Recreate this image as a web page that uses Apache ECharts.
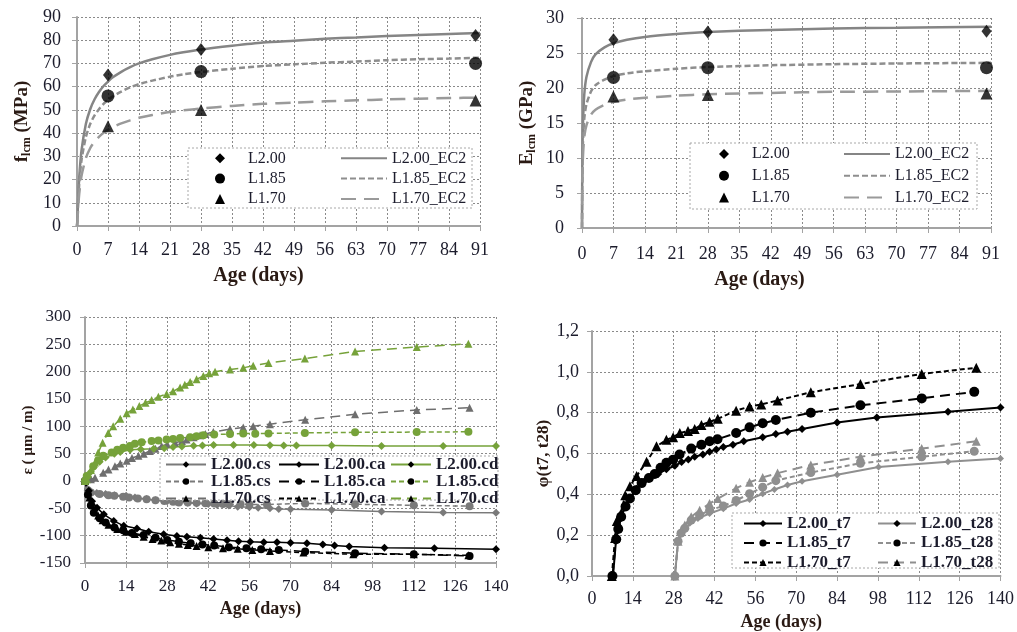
<!DOCTYPE html>
<html>
<head>
<meta charset="utf-8">
<script src="https://cdn.jsdelivr.net/npm/echarts@6/dist/echarts.min.js"></script>
<style>
  html, body { margin: 0; padding: 0; background: #fff; }
  #chart { width: 1017px; height: 632px; }
</style>
</head>
<body>
<div id="chart"></div>
<script>
// ---- top left: compressive strength ----
const ageTest = [7, 28, 90];
const fcmL200 = [65, 76, 82];
const fcmL185 = [56, 66.5, 70];
const fcmL170 = [43, 50, 54];
const ageEc2 = [0, 0.1, 0.25, 0.5, 1, 2, 3, 4, 5, 6, 7, 8, 10, 12, 14, 17, 21, 24, 28, 35, 42, 49, 56, 63, 70, 77, 84, 91];
const fcmEc2L200 = [0, 3.3, 11.2, 20.8, 32.2, 43.9, 50.4, 54.7, 57.8, 60.3, 62.2, 63.9, 66.4, 68.4, 70, 71.8, 73.7, 74.8, 76, 77.6, 79, 79.8, 80.6, 81.2, 81.8, 82.3, 82.7, 83.1];
const fcmEc2L185 = [0, 2.9, 9.8, 18.1, 28.1, 38.3, 44, 47.7, 50.4, 52.6, 54.3, 55.7, 57.9, 59.7, 61.1, 62.6, 64.3, 65.3, 66.3, 67.7, 68.9, 69.6, 70.3, 70.8, 71.4, 71.8, 72.1, 72.5];
const fcmEc2L170 = [0, 2.2, 7.5, 13.8, 21.4, 29.2, 33.6, 36.4, 38.5, 40.1, 41.4, 42.5, 44.2, 45.5, 46.6, 47.8, 49.1, 49.8, 50.6, 51.7, 52.6, 53.1, 53.7, 54.1, 54.5, 54.8, 55.1, 55.3];

// ---- top right: modulus of elasticity ----
const ecmL200 = [26.9, 28.0, 28.1];
const ecmL185 = [21.5, 22.9, 22.9];
const ecmL170 = [18.8, 19.0, 19.2];
const ageEc2E = [0, 0.02, 0.05, 0.1, 0.2, 0.5, 1, 2, 3, 5, 7, 10, 14, 21, 28, 42, 56, 70, 91];
const ecmEc2L200 = [0, 3.1, 7.2, 10.9, 14.6, 19, 21.6, 23.7, 24.8, 25.8, 26.4, 26.9, 27.3, 27.7, 28, 28.3, 28.5, 28.6, 28.75];
const ecmEc2L185 = [0, 2.5, 5.9, 9, 12, 15.6, 17.7, 19.5, 20.4, 21.2, 21.7, 22.1, 22.4, 22.75, 23, 23.25, 23.4, 23.5, 23.6];
const ecmEc2L170 = [0, 2.1, 4.9, 7.4, 10, 13, 14.7, 16.2, 16.9, 17.6, 18, 18.35, 18.6, 18.9, 19.1, 19.3, 19.45, 19.5, 19.6];

// ---- bottom left: strains [day, µm/m] ----
const csL200 = [[0,0],[1,-15],[2,-20],[4,-22],[7,-24],[10,-26],[14,-27],[17,-30],[21,-33],[24,-35],[28,-37],[31,-38],[35,-40],[38,-41],[42,-42],[45,-44],[49,-45],[52,-47],[56,-48],[59,-49],[63,-50],[66,-51],[70,-51.5],[84,-53],[101,-56],[122,-57.5],[140,-58]];
const csL185 = [[0,0],[1,-17],[2,-21],[5,-24],[8,-26],[10,-27],[13,-29],[15,-30],[18,-32],[21,-33.5],[24,-35],[27,-36.5],[30,-38],[32,-39.5],[35,-39.5],[38,-40],[41,-40.5],[44,-41],[47,-42],[49,-42.5],[53,-42.5],[56,-43],[62,-43],[75,-41],[92,-42.5],[112,-44.5],[131,-46]];
const csL170 = [[0,0],[2,3],[3.4,6],[6.2,15],[8,21],[10.2,27],[12,32],[14.2,37],[16,42],[18.2,46],[20,50],[22.1,55],[24,59],[26.1,64],[28,67],[30.7,70],[33,73],[34.6,76],[37,80],[39.2,83.6],[41,86],[43.7,89.6],[49.4,95],[53.9,98],[57.3,100],[63,104],[75,112],[92,122],[113,130],[131,134]];
const caL200 = [[0,0],[1.3,-18],[2.4,-37],[4.1,-49],[6.4,-61],[9.8,-73],[13.2,-82],[17.7,-87],[21.7,-93],[26.8,-97.5],[31.3,-100.5],[34.7,-102],[39.3,-104],[43.8,-106],[48.4,-108.5],[52.3,-110],[56.3,-111],[60.9,-112],[65.4,-112],[70,-113],[75.6,-114],[81,-116],[85,-118],[90,-120],[102,-122],[119,-123],[140,-125]];
const caL185 = [[0,0],[1,-25],[2,-45],[3,-58],[5,-68],[7,-76],[10,-85],[13,-90],[16,-95],[20,-99],[24,-104],[28,-108],[32,-111],[36,-114],[40,-116],[44,-118],[49,-121],[55,-123],[60,-125],[66,-126],[75,-129],[92,-132],[112,-134],[131,-137]];
const caL170 = [[0,0],[1.5,-30],[3,-52],[4.5,-63],[6,-72],[8,-80],[11,-88],[14,-93],[17,-97],[20,-102],[23,-106],[26,-109],[29,-112],[32,-115],[35,-117],[38,-119],[42,-121],[47,-123],[52,-124],[57,-126],[63,-128],[74.4,-131],[91.4,-134],[112,-134],[130.6,-136]];
const cdL200 = [[0,0],[1,8],[2,17],[3,25],[5,35],[7,43],[10,50],[12,53],[15.4,57],[19,58],[23.4,59],[27,60],[30,62],[33,63],[37,64.5],[40,65],[43.8,66],[50.6,66],[57.5,66],[63,65.5],[67.7,65],[72,65],[84,65],[101,64],[122,64],[140,64]];
const cdL185 = [[0,0],[0.6,9],[2.8,27],[4.5,38],[6.2,46],[9.1,52],[11,57],[13,61],[15.3,64],[17,68],[19.3,71],[22.7,73],[25,74],[27.8,76],[30,77],[32.4,78.5],[35.8,80],[38,82],[40.3,83.5],[44,85],[49.4,86],[53.9,87],[58,86.5],[62.5,87],[74.9,88],[92,89],[113,89.5],[130.6,90]];
const cdL170 = [[0,0],[0.6,3],[2,20],[3.4,34],[4.5,52],[6,70],[7.9,88],[9.6,100],[12,114],[14.2,124],[16.3,131],[18.5,137],[20.6,143],[22.7,148],[25,154],[27.8,159],[30,164],[32.4,171],[34,176],[35.8,181],[38,186],[40.3,192],[42.3,197],[44.3,200],[49.4,204],[53.9,207],[57.3,211],[62.5,216],[74.9,224],[92,237],[113,245],[130.6,251]];

// ---- bottom right: creep coefficient [day, phi] ----
const phiL200t7 = [[7.2,0],[8.3,0.186],[9.7,0.28],[11.4,0.347],[13,0.38],[15.3,0.427],[17.6,0.46],[19.9,0.483],[22.7,0.5],[25.5,0.523],[28.4,0.54],[30.7,0.558],[33,0.571],[35.2,0.584],[38,0.595],[40.3,0.608],[42.6,0.62],[45,0.632],[48.3,0.643],[52,0.66],[58.5,0.68],[63,0.695],[67,0.707],[72,0.72],[84,0.752],[97.6,0.776],[122,0.804],[140,0.825]];
const phiL185t7 = [[7,0],[8.3,0.18],[9,0.23],[10,0.29],[11.5,0.34],[13,0.38],[15,0.42],[17,0.455],[19.5,0.48],[21.5,0.5],[23.5,0.53],[25.5,0.555],[27.8,0.57],[30,0.595],[34,0.624],[37.5,0.643],[40.3,0.66],[43,0.67],[49.4,0.7],[54,0.728],[58.5,0.748],[63,0.764],[75,0.8],[92,0.836],[113,0.87],[131,0.902]];
const phiL170t7 = [[6.8,0],[7.9,0.186],[8.5,0.27],[9.7,0.3],[11.4,0.395],[13,0.44],[15.3,0.49],[18.7,0.56],[22.1,0.635],[25.5,0.667],[27.8,0.68],[30.1,0.7],[32.9,0.71],[35.2,0.72],[37.5,0.74],[40.3,0.755],[43.1,0.77],[49.4,0.81],[54,0.83],[58,0.84],[63.6,0.86],[75,0.9],[92,0.94],[113,0.99],[131.7,1.02]];
const phiL200t28 = [[28.4,0],[29.5,0.17],[31.2,0.218],[33.5,0.258],[36.3,0.282],[40.3,0.306],[45,0.33],[49.4,0.355],[54,0.375],[58.5,0.403],[62.5,0.424],[67,0.446],[72,0.464],[84,0.496],[98.2,0.534],[122,0.56],[140,0.576]];
const phiL185t28 = [[28.4,0],[29.5,0.17],[30.5,0.21],[31.8,0.234],[34,0.274],[36.9,0.298],[40.3,0.322],[45,0.343],[49.4,0.37],[54,0.403],[58.5,0.435],[63,0.467],[75,0.507],[92,0.552],[113,0.584],[131,0.611]];
const phiL170t28 = [[28.4,0],[29.5,0.17],[30.5,0.22],[31.8,0.25],[34,0.29],[36.9,0.322],[40.3,0.355],[43.1,0.379],[49.4,0.43],[54,0.459],[58.5,0.483],[63.6,0.504],[75,0.544],[92,0.584],[113,0.624],[131.7,0.66]];

const FONT = "'Liberation Serif', 'DejaVu Serif', serif";
const TXT = '#1c1c2c';
const TITLE = '#2a1a14';
const GRAY = '#858585';
const GREEN = '#76a23a';

const chart = echarts.init(document.getElementById('chart'));

function pairs(xs, ys) {
    return xs.map((x, i) => [x, ys[i]]);
}

function axis(gi, min, max, interval, o) {
    return {
        type: 'value', gridIndex: gi, min: min, max: max, interval: interval,
        name: o.name, nameLocation: 'middle', nameGap: o.gap,
        nameTextStyle: o.nameStyle,
        axisLine: { show: true, onZero: false, lineStyle: { color: '#a3a3a3', width: 2 } },
        axisTick: { show: true, length: 5, lineStyle: { color: '#a3a3a3' } },
        axisLabel: {
            margin: o.margin, fontFamily: FONT, fontSize: o.fs, color: TXT,
            formatter: o.fmt
        },
        splitLine: { show: true, lineStyle: { color: '#8a8a8a', type: [2, 2], width: 1 } }
    };
}

function ageName(fs, shift) {
    return { fontFamily: FONT, fontSize: fs, fontWeight: 'bold', color: TITLE, padding: [0, shift, 0, 0] };
}

function subName(size, sub) {
    return {
        rich: {
            a: { fontFamily: FONT, fontSize: size, fontWeight: 'bold', color: TITLE },
            b: { fontFamily: FONT, fontSize: sub, fontWeight: 'bold', color: TITLE, padding: [9, 0, 0, 0] }
        }
    };
}

function mark(name, gi, data, symbol, size, color) {
    return {
        name: name, type: 'scatter', xAxisIndex: gi, yAxisIndex: gi, data: data,
        symbol: symbol, symbolSize: size, itemStyle: { color: color }, z: 5
    };
}

function curve(name, gi, data, color, width, dash) {
    return {
        name: name, type: 'line', xAxisIndex: gi, yAxisIndex: gi, data: data,
        symbol: 'none', smooth: 0.25,
        itemStyle: { color: color },
        lineStyle: { color: color, width: width, type: dash }
    };
}

function marked(name, gi, data, color, dash, symbol, size, width) {
    return {
        name: name, type: 'line', xAxisIndex: gi, yAxisIndex: gi, data: data,
        symbol: symbol, symbolSize: size, showSymbol: true,
        itemStyle: { color: color },
        lineStyle: { color: color, width: width, type: dash }
    };
}

function legendCol(names, left, top, o) {
    return {
        data: names, orient: 'vertical', left: left, top: top, padding: 0,
        itemWidth: o.w, itemHeight: o.h, itemGap: o.gap, selectedMode: false,
        itemStyle: o.hideMark ? { opacity: 0 } : undefined,
        textStyle: {
            fontFamily: FONT, fontSize: o.fs, fontWeight: o.bold ? 'bold' : 'normal',
            color: TXT, lineHeight: o.lh, padding: [0, 0, 0, o.pad || 0]
        },
        z: 6
    };
}

function box(x, y, w, h) {
    return {
        type: 'rect', z: 4,
        shape: { x: x, y: y, width: w, height: h },
        style: { fill: '#fff', stroke: '#a8a8a8', lineWidth: 1, lineDash: [2, 2] }
    };
}

const comma = v => v.toFixed(1).replace('.', ',');

const markLeg1 = { w: 10, h: 10, gap: 4.3, fs: 16, lh: 16, pad: 18 };
const lineLeg1 = { w: 46, h: 10, gap: 4.3, fs: 16, lh: 16, hideMark: true };
const markLeg2 = { w: 10, h: 10, gap: 5.7, fs: 16, lh: 16, pad: 18 };
const lineLeg2 = { w: 46, h: 10, gap: 5.7, fs: 16, lh: 16, hideMark: true };
const botLeg = { w: 40, h: 8, gap: 0, fs: 17, lh: 15, bold: true };
const phiLeg = { w: 38, h: 9, gap: 2.5, fs: 17, lh: 16, bold: true };

const option = {
    backgroundColor: '#fff',
    animation: false,
    textStyle: { fontFamily: FONT },
    grid: [
        { left: 77, top: 17, width: 403, height: 209 },
        { left: 582, top: 18, width: 409, height: 210 },
        { left: 85, top: 317, width: 411, height: 246 },
        { left: 592, top: 331, width: 411, height: 249 }
    ],
    xAxis: [
        axis(0, 0, 91, 7, { name: 'Age (days)', gap: 40, nameStyle: ageName(20, 40), margin: 15, fs: 18 }),
        axis(1, 0, 91, 7, { name: 'Age (days)', gap: 42, nameStyle: ageName(20, 54), margin: 17, fs: 18 }),
        axis(2, 0, 140, 14, { name: 'Age (days)', gap: 37, nameStyle: ageName(18, 60), margin: 15, fs: 17 }),
        axis(3, 0, 140, 14, { name: 'Age (days)', gap: 37, nameStyle: ageName(18, 30), margin: 14, fs: 18 })
    ],
    yAxis: [
        axis(0, 0, 90, 10, { name: '{a|f}{b|lcm}{a| (MPa)}', gap: 44, nameStyle: subName(19, 12), margin: 16, fs: 18 }),
        axis(1, 0, 30, 5, { name: '{a|E}{b|lcm}{a| (GPa)}', gap: 44, nameStyle: subName(19, 12), margin: 18, fs: 18 }),
        axis(2, -150, 300, 50, { name: 'ε ( µm / m)', gap: 44, nameStyle: { fontFamily: FONT, fontSize: 15, fontWeight: 'bold', color: TITLE }, margin: 14, fs: 17 }),
        axis(3, 0, 1.2, 0.2, { name: 'φ(t7, t28)', gap: 40, nameStyle: { fontFamily: FONT, fontSize: 17, fontWeight: 'bold', color: TITLE }, margin: 13, fs: 18, fmt: comma })
    ],
    legend: [
        legendCol(['L2.00', 'L1.85', 'L1.70'], 215, 150.3, markLeg1),
        legendCol(['L2.00_EC2', 'L1.85_EC2', 'L1.70_EC2'], 340, 150.3, lineLeg1),
        legendCol(['L2.00', 'L1.85', 'L1.70'], 719, 146, markLeg2),
        legendCol(['L2.00_EC2', 'L1.85_EC2', 'L1.70_EC2'], 843, 146, lineLeg2),
        legendCol(['L2.00.cs', 'L1.85.cs', 'L1.70.cs'], 165, 456, botLeg),
        legendCol(['L2.00.ca', 'L1.85.ca', 'L1.70.ca'], 278, 456, botLeg),
        legendCol(['L2.00.cd', 'L1.85.cd', 'L1.70.cd'], 390, 456, botLeg),
        legendCol(['L2.00_t7', 'L1.85_t7', 'L1.70_t7'], 743, 515, phiLeg),
        legendCol(['L2.00_t28', 'L1.85_t28', 'L1.70_t28'], 877, 515, phiLeg)
    ],
    graphic: [
        box(188, 148, 284, 60),
        box(690, 143, 287, 66),
        box(160, 456, 338, 44),
        box(732, 513, 267, 55)
    ],
    series: [
        curve('L2.00_EC2', 0, pairs(ageEc2, fcmEc2L200), GRAY, 2.5, 'solid'),
        curve('L1.85_EC2', 0, pairs(ageEc2, fcmEc2L185), '#8e8e8e', 2.5, [6, 3]),
        curve('L1.70_EC2', 0, pairs(ageEc2, fcmEc2L170), '#9a9a9a', 2.5, [15, 8]),
        mark('L2.00', 0, pairs(ageTest, fcmL200), 'diamond', [10, 13], '#000'),
        mark('L1.85', 0, pairs(ageTest, fcmL185), 'circle', 13, '#000'),
        mark('L1.70', 0, pairs(ageTest, fcmL170), 'triangle', 12, '#000'),

        curve('L2.00_EC2', 1, pairs(ageEc2E, ecmEc2L200), GRAY, 2.5, 'solid'),
        curve('L1.85_EC2', 1, pairs(ageEc2E, ecmEc2L185), '#8e8e8e', 2.5, [6, 3]),
        curve('L1.70_EC2', 1, pairs(ageEc2E, ecmEc2L170), '#9a9a9a', 2.5, [15, 8]),
        mark('L2.00', 1, pairs(ageTest, ecmL200), 'diamond', [10, 13], '#000'),
        mark('L1.85', 1, pairs(ageTest, ecmL185), 'circle', 13, '#000'),
        mark('L1.70', 1, pairs(ageTest, ecmL170), 'triangle', 12, '#000'),

        marked('L2.00.cs', 2, csL200, '#7a7a7a', 'solid', 'diamond', 8, 1.5),
        marked('L1.85.cs', 2, csL185, '#7a7a7a', [5, 3], 'circle', 8, 1.5),
        marked('L1.70.cs', 2, csL170, '#6e6e6e', [10, 6], 'triangle', 8, 1.5),
        marked('L2.00.ca', 2, caL200, '#000', 'solid', 'diamond', 8, 1.5),
        marked('L1.85.ca', 2, caL185, '#000', [10, 6], 'circle', 8, 1.5),
        marked('L1.70.ca', 2, caL170, '#000', [5, 3], 'triangle', 8, 1.5),
        marked('L2.00.cd', 2, cdL200, GREEN, 'solid', 'diamond', 8, 1.5),
        marked('L1.85.cd', 2, cdL185, GREEN, [5, 3], 'circle', 8, 1.5),
        marked('L1.70.cd', 2, cdL170, GREEN, [10, 6], 'triangle', 8, 1.5),

        marked('L2.00_t7', 3, phiL200t7, '#000', 'solid', 'diamond', 8, 2),
        marked('L1.85_t7', 3, phiL185t7, '#000', [10, 6], 'circle', 10, 2),
        marked('L1.70_t7', 3, phiL170t7, '#000', [5, 3], 'triangle', 10, 2),
        marked('L2.00_t28', 3, phiL200t28, '#8f8f8f', 'solid', 'diamond', 7, 2),
        marked('L1.85_t28', 3, phiL185t28, '#8f8f8f', [5, 3], 'circle', 9, 2),
        marked('L1.70_t28', 3, phiL170t28, '#8f8f8f', [10, 6], 'triangle', 9, 2)
    ]
};

chart.setOption(option);
</script>
</body>
</html>
